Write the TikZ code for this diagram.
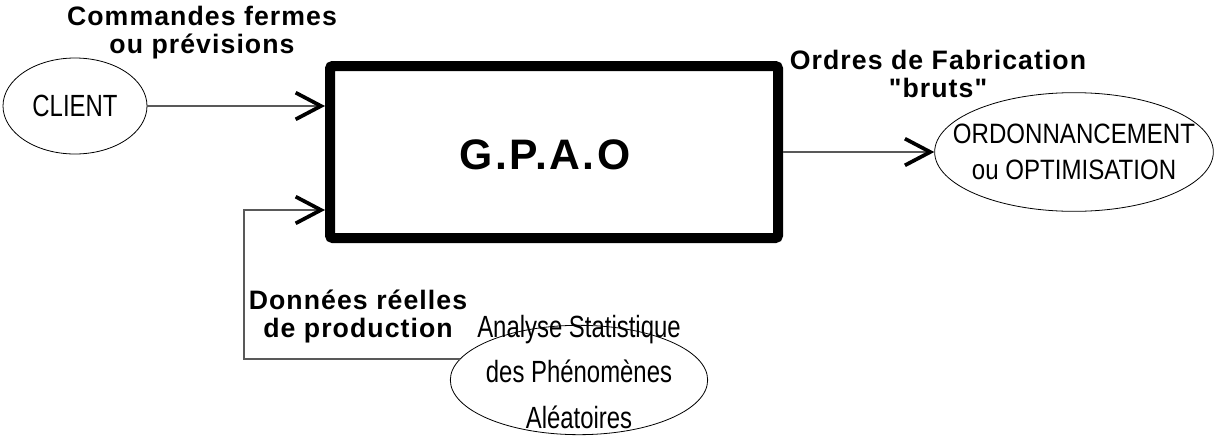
\documentclass[tikz,border=0pt]{standalone}
\usepackage{fontspec}
\setmainfont{Liberation Sans}
\newfontfamily\lblfont[LetterSpace=4]{Liberation Sans}
\newfontfamily\titlefont[LetterSpace=6]{Liberation Sans}
\newfontfamily\narrowfont[FakeStretch=0.78]{Liberation Sans}
\newfontfamily\ordofont[FakeStretch=0.86]{Liberation Sans}
\usetikzlibrary{arrows.meta,shapes.geometric}
\begin{document}
\begin{tikzpicture}[x=0.75pt,y=-0.75pt,
 flow/.style={draw=black!65,line width=0.8pt,-{Straight Barb[length=19pt,width=20pt,line width=2.8pt,color=black]}},
 oval/.style={draw,ellipse,line width=0.6pt,inner sep=0pt},
 lbl/.style={font=\lblfont\fontsize{20}{21}\selectfont\bfseries,align=center},
 txt/.style={font=\narrowfont\fontsize{23}{34}\selectfont,align=center}]
\useasboundingbox (0,0) rectangle (1215,436);
\node[draw,line width=7.5pt,rounded corners=2pt,minimum width=336pt,minimum height=129pt] (gpao) at (554,152) {};
\node[font=\titlefont\fontsize{32}{36}\selectfont\bfseries] (title) at (545,155) {G.P.A.O};
\node[oval,minimum width=108pt,minimum height=72pt] (client) at (75,106) {};
\node[txt] (clienttxt) at (client) {CLIENT};
\node[oval,minimum width=209pt,minimum height=89pt] (ordo) at (1074,152) {};
\node[txt,font=\ordofont\fontsize{21}{27}\selectfont] (ordotxt) at (ordo) {ORDONNANCEMENT\\ou OPTIMISATION};
\node[oval,minimum width=193pt,minimum height=82pt] (ana) at (579,380) {};
\node[txt,yshift=6pt] (anatxt) at (ana) {Analyse Statistique\\des Phénomènes\\Aléatoires};
\node[lbl] (cmd) at (202,33) {Commandes fermes\\ou prévisions};
\node[lbl] (of) at (938,74) {Ordres de Fabrication\\"bruts"};
\node[lbl] (data) at (358,316) {Données réelles\\de production};
\coordinate (fb) at (244,210);
\draw[flow] (client.east) -- (client.east -| gpao.west);
\draw[flow] (gpao.east) -- (ordo.west);
\draw[flow] (ana.170) -| (fb) -- (fb -| gpao.west);
\end{tikzpicture}
\end{document}
